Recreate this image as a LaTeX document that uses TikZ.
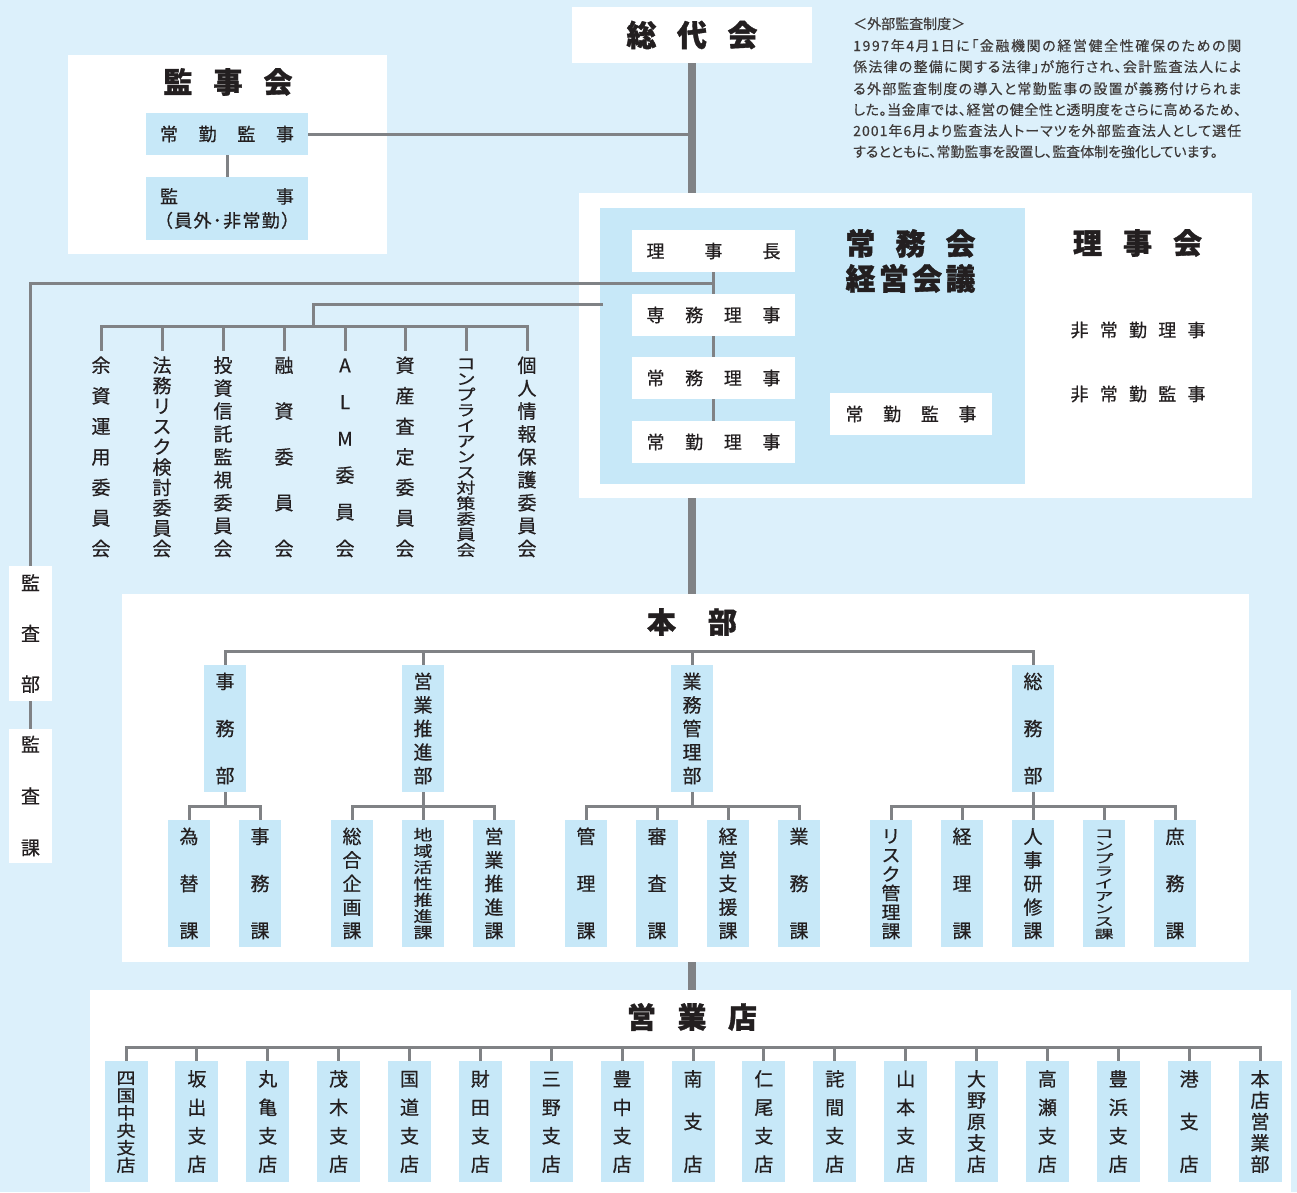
\documentclass[tikz,border=0pt]{standalone}
\usepackage{fontspec}
\usepackage{graphicx}
\setmainfont{Noto Sans CJK JP}[BoldFeatures={FakeBold=1.2}]
\newfontfamily\mfont{Noto Sans CJK JP}[FakeBold=0.6]
\newfontfamily\notefont{Noto Sans CJK JP}[RawFeature=+palt,FakeBold=0.3]
\definecolor{bgc}{HTML}{DCF0FB}
\definecolor{lb}{HTML}{C7E8F8}
\definecolor{ln}{HTML}{808285}
\definecolor{tx}{HTML}{231F20}
\definecolor{nt}{HTML}{3E3A39}
\pgfdeclarelayer{bg}\pgfdeclarelayer{lines}\pgfsetlayers{bg,lines,main}
\newcommand\fs[1]{\fontsize{#1}{#1}\selectfont}
% vertical stacked text
\newcommand\vsc{1}
\newcommand\vstchar[1]{\hbox to 1em{\hss\scalebox{1}[\vsc]{\rule[-.12em]{0pt}{1em}#1}\hss}}
\newcommand\vstfirst[1]{\vstchar{#1}\vstloop}
\newcommand\vstloop[1]{\ifx#1\relax\else\vfill\vstchar{#1}\expandafter\vstloop\fi}
\newcommand\vst[3][1]{\vbox to #2{\offinterlineskip\renewcommand\vsc{#1}\expandafter\vstfirst#3\relax}}
% horizontally spread text
\newcommand\hspfirst[1]{#1\hsploop}
\newcommand\hsploop[1]{\ifx#1\relax\else\hfill#1\expandafter\hsploop\fi}
\newcommand\hsp[2]{\hbox to #1{\expandafter\hspfirst#2\relax}}
\tikzset{
  wbox/.style={fill=white, inner sep=0pt},
  lbox/.style={fill=lb, inner sep=0pt},
  vcol/.style={lbox, minimum width=42pt, minimum height=127pt, font=\mfont\fs{19}, text=tx},
  brn/.style={lbox, minimum width=43pt, minimum height=121pt, font=\mfont\fs{19}, text=tx},
  hbx/.style={wbox, minimum width=163pt, minimum height=42pt, font=\mfont\fs{18}, text=tx},
  ttl/.style={font=\fs{29}\bfseries, text=tx, inner sep=0pt},
  cmt/.style={anchor=north, inner xsep=0pt, inner ysep=6.5pt, font=\mfont\fs{19}, text=tx},
  note/.style={anchor=base west, inner sep=0pt, font=\notefont\fs{14}, text=nt},
  conn/.style={draw=ln, line width=3pt, line cap=rect},
  trunk/.style={draw=ln, line width=8.5pt},
}
\begin{document}
\begin{tikzpicture}[x=1pt,y=-1pt]
\useasboundingbox (0,0) rectangle (1297,1192);
\begin{pgfonlayer}{bg}
  \fill[bgc] (0,0) rectangle (1297,1192);
  \node[wbox, minimum width=240pt, minimum height=56pt, font=\fs{30}\bfseries, text=tx] (sodai) at (692,35) {\hsp{131pt}{総代会}};
  \node[wbox, minimum width=319pt, minimum height=199pt] (kanjikai) at (227.5,154.5) {};
  \node[wbox, minimum width=673pt, minimum height=305pt] (rijibox) at (915.5,345.5) {};
  \node[lbox, minimum width=425pt, minimum height=276pt] (jomukai) at (812.5,346) {};
  \node[wbox, minimum width=1127pt, minimum height=368pt] (honbu) at (685.5,778) {};
  \node[wbox, minimum width=1201pt, minimum height=204pt] (eigyo) at (690.5,1092) {};
\end{pgfonlayer}

% note
\node[note] (n0) at (853,29) {＜外部監査制度＞};
\node[note] (n1) at (853,51) {\hsp{388pt}{1997年4月1日に「金融機関の経営健全性確保のための関}};
\node[note] (n2) at (853,72) {\hsp{388pt}{係法律の整備に関する法律」が施行され、会計監査法人によ}};
\node[note] (n3) at (853,94) {\hsp{388pt}{る外部監査制度の導入と常勤監事の設置が義務付けられま}};
\node[note] (n4) at (853,115) {\hsp{388pt}{した。当金庫では、経営の健全性と透明度をさらに高めるため、}};
\node[note] (n5) at (853,136) {\hsp{388pt}{2001年6月より監査法人トーマツを外部監査法人として選任}};
\node[note] (n6) at (853,157) {するとともに、常勤監事を設置し、監査体制を強化しています。};

% 監事会
\node[ttl] (kjt) at (228,82) {\hsp{129pt}{監事会}};
\node[hbx, lbox, minimum width=162pt] (jk1) at (227,134) {\hsp{134pt}{常勤監事}};
\node[lbox, minimum width=162pt, minimum height=63pt, align=center, font=\mfont\fontsize{18}{24}\selectfont, text=tx] (kj2) at (227,208.5) {\hsp{134pt}{監事}\\\hsp{144pt}{（員外･非常勤）}};

% 理事会 / 常務会
\node[hbx] (rijicho) at (713.5,251) {\hsp{134pt}{理事長}};
\node[hbx] (senmu) at (713.5,315) {\hsp{134pt}{専務理事}};
\node[hbx] (jomu) at (713.5,378) {\hsp{134pt}{常務理事}};
\node[hbx] (jokin) at (713.5,442) {\hsp{134pt}{常勤理事}};
\node[hbx, minimum width=162pt] (jk2) at (911,414) {\hsp{131pt}{常勤監事}};
\node[ttl, font=\fontsize{30}{35}\selectfont\bfseries, align=center] (jmt) at (910.5,261) {\hsp{130pt}{常務会}\\\hsp{130pt}{経営会議}};
\node[ttl] (rjt) at (1137.5,243) {\hsp{129pt}{理事会}};
\node[inner sep=0pt, font=\mfont\fs{18}, text=tx] (hj1) at (1138,330) {\hsp{135pt}{非常勤理事}};
\node[inner sep=0pt, font=\mfont\fs{18}, text=tx] (hj2) at (1138,394) {\hsp{135pt}{非常勤監事}};

% committees
\foreach \lbl/\sc/\xx [count=\i] in {余資運用委員会/1/101, 法務リスク検討委員会/1/162, 投資信託監視委員会/1/223, 融資委員会/1/284, ALM委員会/1/345, 資産査定委員会/1/405, コンプライアンス対策委員会/0.8/466, 個人情報保護委員会/1/527}
  \node[cmt] (c\i) at (\xx,349) {\vst[\sc]{200pt}{\lbl}};

% 監査部
\node[wbox, minimum width=43pt, minimum height=135pt, font=\mfont\fs{19}, text=tx] (kb) at (30.5,633.5) {\vst{118pt}{監査部}};
\node[wbox, minimum width=43pt, minimum height=134pt, font=\mfont\fs{19}, text=tx] (kk) at (30.5,796) {\vst{120pt}{監査課}};

% 本部
\node[ttl] (hbt) at (692,622) {\hsp{90pt}{本部}};
\foreach \lbl/\xx [count=\i] in {事務部/225, 営業推進部/423, 業務管理部/692, 総務部/1033}
  \node[vcol] (d\i) at (\xx,728.5) {\vst{111pt}{\lbl}};
\foreach \lbl/\sc/\xx/\nm in {為替課/1/189/s11, 事務課/1/260/s12,
  総合企画課/1/352/s21, 地域活性推進課/0.8/423/s22, 営業推進課/1/494/s23,
  管理課/1/586/s31, 審査課/1/657/s32, 経営支援課/1/728/s33, 業務課/1/799/s34,
  リスク管理課/0.95/891/s41, 経理課/1/962/s42, 人事研修課/1/1033/s43, コンプライアンス課/0.62/1104/s44, 庶務課/1/1175/s45}
  \node[vcol] (\nm) at (\xx,883.5) {\vst[\sc]{111pt}{\lbl}};

% 営業店
\node[ttl] (ett) at (692,1017) {\hsp{130pt}{営業店}};
\foreach \lbl/\sc [count=\i] in {四国中央支店/0.88, 坂出支店/1, 丸亀支店/1, 茂木支店/1, 国道支店/1, 財田支店/1, 三野支店/1, 豊中支店/1, 南支店/1, 仁尾支店/1, 詫間支店/1, 山本支店/1, 大野原支店/1, 高瀬支店/1, 豊浜支店/1, 港支店/1, 本店営業部/1}
  \node[brn] (b\i) at ({126+70.875*(\i-1)},1121.5) {\vst[\sc]{102pt}{\lbl}};

% connectors
\begin{pgfonlayer}{lines}
  \draw[trunk] (sodai.south) -- (sodai.south |- rijibox.north);
  \draw[trunk] (sodai.south |- rijibox.south) -- (sodai.south |- honbu.north);
  \draw[trunk] (sodai.south |- honbu.south) -- (sodai.south |- eigyo.north);
  \draw[conn] (jk1.east) -- (jk1.east -| sodai.south);
  \draw[conn] (jk1.south) -- (kj2.north);
  \draw[conn] (rijicho.south) -- (senmu.north);
  \draw[conn] (senmu.south) -- (jomu.north);
  \draw[conn] (jomu.south) -- (jokin.north);
  \coordinate (j1) at (713.5,283);
  \draw[conn] (j1) -| (kb.north);
  \draw[conn] (kb.south) -- (kk.north);
  \coordinate (j2) at (601,304);
  \coordinate (cb) at (313,326);
  \draw[conn] (j2) -| (cb);
  \draw[conn] (cb -| c1.north) -- (cb -| c8.north);
  \foreach \i in {1,...,8} \draw[conn] (cb -| c\i.north) -- (c\i.north);
  \coordinate (hb) at (0,651);
  \draw[conn] (hb -| d1.north) -- (hb -| d4.north);
  \foreach \i in {1,...,4} \draw[conn] (hb -| d\i.north) -- (d\i.north);
  \coordinate (sb) at (0,806);
  \draw[conn] (sb -| s11.north) -- (sb -| s12.north);
  \draw[conn] (sb -| s21.north) -- (sb -| s23.north);
  \draw[conn] (sb -| s31.north) -- (sb -| s34.north);
  \draw[conn] (sb -| s41.north) -- (sb -| s45.north);
  \foreach \i in {1,...,4} \draw[conn] (d\i.south) -- (d\i.south |- sb);
  \foreach \nm in {s11,s12,s21,s22,s23,s31,s32,s33,s34,s41,s42,s43,s44,s45}
    \draw[conn] (sb -| \nm.north) -- (\nm.north);
  \coordinate (bb) at (0,1047);
  \draw[conn] (bb -| b1.north) -- (bb -| b17.north);
  \foreach \i in {1,...,17} \draw[conn] (bb -| b\i.north) -- (b\i.north);
\end{pgfonlayer}
\end{tikzpicture}
\end{document}
